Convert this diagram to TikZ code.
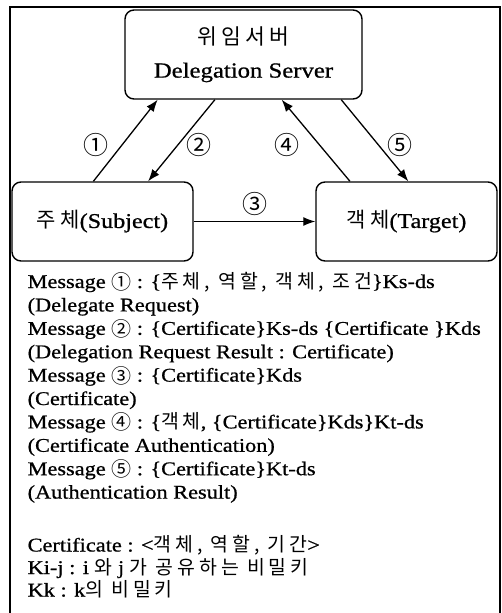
\documentclass[tikz,border=0pt]{standalone}
\usepackage{fontspec}
\setmainfont{Liberation Serif}[FakeStretch=1.15, FakeBold=0.8]
\newfontfamily\kr{Noto Sans CJK KR}[LetterSpace=20]
\newfontfamily\krnum{Noto Sans CJK KR}
\newcommand{\cnum}[1]{\raisebox{-1.5pt}{\krnum\fontsize{20}{23}\selectfont #1}}
\usetikzlibrary{positioning,calc,arrows.meta}

\begin{document}
\begin{tikzpicture}[x=1pt, y=-1pt, >={Latex[length=12pt,width=9pt]}, line width=1.3pt,
    box/.style={draw, rounded corners=9pt, line width=1.4pt, align=center},
    num/.style={font=\krnum\fontsize{25}{25}\selectfont, inner sep=0pt},
    msg/.style={anchor=base west, inner sep=0pt, font=\fontsize{19.4}{23}\selectfont}]
    \useasboundingbox (0,0) rectangle (502,613);
    % outer frame
    \draw[line width=1.6pt] (10,613) -- (10,7) -- (500,7) -- (500,613);

    \node [box, minimum width=237pt, minimum height=89pt, font=\fontsize{21.5}{33}\selectfont] (server) at (243.5,54.5) {{\kr 위임서버}\\Delegation Server};
    \node [box, minimum width=181pt, minimum height=79pt, font=\fontsize{21}{24}\selectfont] (subject) at (102.5,221.5) {{\kr 주체}(Subject)};
    \node [box, minimum width=181pt, minimum height=79pt, font=\fontsize{21}{24}\selectfont] (target) at (406.5,221.5) {{\kr 객체}(Target)};

    \draw [->] ($(subject.north west)!0.45!(subject.north east)$) -- ($(server.south west)!0.14!(server.south east)$);
    \draw [->] ($(server.south west)!0.38!(server.south east)$) -- ($(subject.north west)!0.75!(subject.north east)$);
    \draw [->] (subject) -- (target);
    \draw [->] ($(target.north west)!0.19!(target.north east)$) -- ($(server.south west)!0.66!(server.south east)$);
    \draw [->] ($(server.south west)!0.91!(server.south east)$) -- ($(target.north west)!0.51!(target.north east)$);

    \node [num] (n1) at (96,145) {①};
    \node [num] (n2) at (199,145) {②};
    \node [num] (n3) at (255,204) {③};
    \node [num] (n4) at (287,145) {④};
    \node [num] (n5) at (400,145) {⑤};

    % messages
    \foreach \txt [count=\i] in {
        {Message \cnum{①} : \{{\kr 주체, 역할, 객체, 조건}\}Ks-ds},
        (Delegate Request),
        {Message \cnum{②} : \{Certificate\}Ks-ds \{Certificate \}Kds},
        (Delegation Request Result : Certificate),
        {Message \cnum{③} : \{Certificate\}Kds},
        (Certificate),
        {Message \cnum{④} : \{{\kr 객체}, \{Certificate\}Kds\}Kt-ds},
        (Certificate Authentication),
        {Message \cnum{⑤} : \{Certificate\}Kt-ds},
        (Authentication Result)}
        \node [msg] (msg\i) at (27,{288+23.4*(\i-1)}) {\txt};

    % legend
    \node [msg] (cert) at (27,551.5) {Certificate : <{\kr 객체, 역할, 기간}>};
    \node [msg] (kij) at (27,574) {Ki-j : i {\kr 와} j {\kr 가 공유하는 비밀키}};
    \node [msg] (kk) at (27,596.5) {Kk : k{\kr 의 비밀키}};
\end{tikzpicture}
\end{document}
